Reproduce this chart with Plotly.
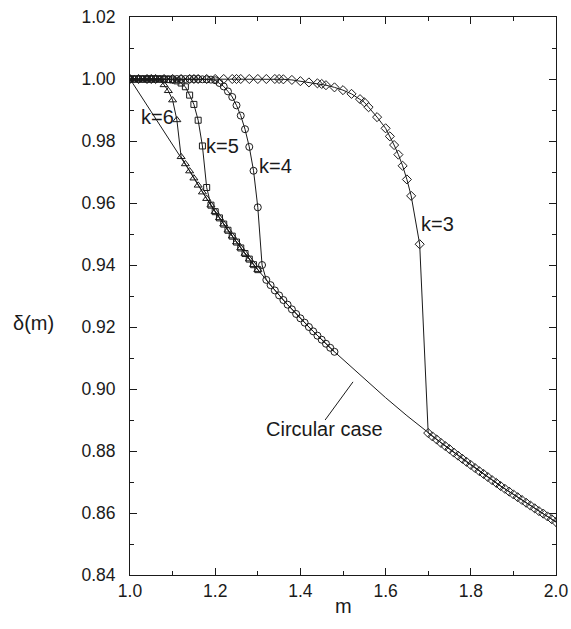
import plotly.graph_objects as go

# ---- circular case: delta(m) along the limiting curve ----
circ_m = [1.00,
          1.12, 1.13, 1.14, 1.15, 1.16, 1.17, 1.18, 1.19, 1.20, 1.21,
          1.22, 1.23, 1.24, 1.25, 1.26, 1.27, 1.28, 1.29, 1.30, 1.31,
          1.32, 1.33, 1.34, 1.35, 1.36, 1.37, 1.38, 1.39, 1.40, 1.41,
          1.42, 1.43, 1.44, 1.45, 1.46, 1.47, 1.48,
          1.50, 1.55, 1.60, 1.65,
          1.70, 1.71, 1.72, 1.73, 1.74, 1.75, 1.76, 1.77, 1.78, 1.79,
          1.80, 1.81, 1.82, 1.83, 1.84, 1.85, 1.86, 1.87, 1.88, 1.89,
          1.90, 1.91, 1.92, 1.93, 1.94, 1.95, 1.96, 1.97, 1.98, 1.99, 2.00]
circ_d = [1.0000,
          0.9749, 0.9726, 0.9703, 0.9680, 0.9657, 0.9635, 0.9614, 0.9593, 0.9572, 0.9552,
          0.9532, 0.9512, 0.9493, 0.9474, 0.9455, 0.9437, 0.9419, 0.9401, 0.9385, 0.9367,
          0.9352, 0.9335, 0.9318, 0.9302, 0.9287, 0.9272, 0.9257, 0.9242, 0.9228, 0.9214,
          0.9200, 0.9186, 0.9172, 0.9159, 0.9146, 0.9133, 0.9120,
          0.9095, 0.9032, 0.8972, 0.8914,
          0.8858, 0.8847, 0.8837, 0.8826, 0.8816, 0.8806, 0.8795, 0.8785, 0.8775, 0.8765,
          0.8755, 0.8745, 0.8735, 0.8726, 0.8716, 0.8706, 0.8697, 0.8687, 0.8678, 0.8669,
          0.8660, 0.8651, 0.8642, 0.8633, 0.8624, 0.8615, 0.8606, 0.8598, 0.8589, 0.8580, 0.8571]

# ---- k = 6 (plateau + drop), then joins the circular curve 1.12 .. 1.30 ----
k6_m = [1.00, 1.01, 1.02, 1.03, 1.04, 1.05, 1.06, 1.07, 1.08, 1.09, 1.10, 1.11]
k6_d = [1.0000, 1.0000, 1.0000, 1.0000, 1.0000, 1.0000, 1.0000, 0.9999, 0.9981, 0.9962, 0.9932, 0.9868]
k6_join = (1.12, 1.30)

# ---- k = 5 ----
k5_m = [1.00, 1.01, 1.02, 1.03, 1.04, 1.05, 1.06, 1.07, 1.08, 1.09, 1.10, 1.11,
        1.12, 1.13, 1.14, 1.15, 1.16, 1.17, 1.18]
k5_d = [1.0000, 1.0000, 1.0000, 1.0000, 1.0000, 1.0000, 1.0000, 1.0000, 0.9999, 0.9998, 0.9997, 0.9994,
        0.9987, 0.9975, 0.9948, 0.9918, 0.9867, 0.9784, 0.9650]
k5_join = (1.19, 1.30)

# ---- k = 4 ----
k4_m = [1.00, 1.01, 1.02, 1.03, 1.04, 1.05, 1.06, 1.07, 1.08, 1.09, 1.10,
        1.11, 1.12, 1.13, 1.14, 1.15, 1.16, 1.17, 1.18, 1.19, 1.20,
        1.21, 1.22, 1.23, 1.24, 1.25, 1.26, 1.27, 1.28, 1.29, 1.30, 1.31]
k4_d = [1.0000, 1.0000, 1.0000, 1.0000, 1.0000, 1.0000, 1.0000, 1.0000, 1.0000, 1.0000, 1.0000,
        1.0000, 1.0000, 1.0000, 1.0000, 1.0000, 1.0000, 0.9999, 0.9999, 0.9998, 0.9996,
        0.9987, 0.9976, 0.9960, 0.9942, 0.9915, 0.9882, 0.9838, 0.9781, 0.9704, 0.9586, 0.9400]
k4_join = (1.32, 1.48)

# ---- k = 3 ----
k3_m = [1.00, 1.02, 1.04, 1.05, 1.06, 1.08, 1.10, 1.12, 1.14, 1.15, 1.16, 1.18,
        1.20, 1.22, 1.24, 1.25, 1.26, 1.28, 1.30, 1.32, 1.34, 1.35, 1.36, 1.38,
        1.40, 1.42, 1.44, 1.45, 1.46, 1.48, 1.50, 1.52, 1.54, 1.55, 1.56, 1.58,
        1.60, 1.61, 1.62, 1.63, 1.64, 1.65, 1.66, 1.68]
k3_d = [1.0000, 1.0000, 1.0000, 1.0000, 1.0000, 1.0000, 1.0000, 1.0000, 1.0000, 1.0000, 1.0000, 1.0000,
        1.0000, 1.0000, 1.0000, 1.0000, 1.0000, 1.0000, 1.0000, 1.0000, 1.0000, 1.0000, 0.9999, 0.9997,
        0.9993, 0.9989, 0.9986, 0.9984, 0.9980, 0.9973, 0.9964, 0.9952, 0.9935, 0.9925, 0.9909, 0.9877,
        0.9841, 0.9815, 0.9787, 0.9756, 0.9720, 0.9676, 0.9623, 0.9467]
k3_join = (1.70, 2.00)

series = [
    ("k=6", k6_m, k6_d, k6_join, "triangle-up-open", 7),
    ("k=5", k5_m, k5_d, k5_join, "square-open", 6),
    ("k=4", k4_m, k4_d, k4_join, "circle-open", 7),
    ("k=3", k3_m, k3_d, k3_join, "diamond-open", 7),
]

INK = "#1a1a1a"
FONT = "Liberation Sans, Arial, Helvetica, sans-serif"

fig = go.Figure()

# solid line of the circular case
fig.add_trace(go.Scatter(x=circ_m, y=circ_d, mode="lines",
                         line=dict(color=INK, width=1), showlegend=False))

for name, ms, ds, (lo, hi), sym, size in series:
    tail = [(m, d) for m, d in zip(circ_m, circ_d) if lo - 1e-9 <= m <= hi + 1e-9]
    xs = ms + [p[0] for p in tail]
    ys = ds + [p[1] for p in tail]
    fig.add_trace(go.Scatter(
        x=xs, y=ys, mode="lines+markers", name=name, showlegend=False,
        line=dict(color=INK, width=1),
        marker=dict(symbol=sym, size=size, color=INK, line=dict(color=INK, width=1)),
    ))

labels = [("k=6", 1.0634, 0.9876), ("k=5", 1.2171, 0.9784),
          ("k=4", 1.3404, 0.9719), ("k=3", 1.7218, 0.9532),
          ("Circular case", 1.4577, 0.8871)]
for txt, x, y in labels:
    fig.add_annotation(x=x, y=y, text=txt, showarrow=False,
                       font=dict(family=FONT, size=20, color=INK),
                       xanchor="center", yanchor="middle")

# pointer from the label to the curve
fig.add_shape(type="line", xref="x", yref="y",
              x0=1.458, y0=0.8900, x1=1.5235, y1=0.9023,
              line=dict(color=INK, width=1))

# axis titles
fig.add_annotation(xref="paper", yref="paper", x=-0.2254, y=0.4516,
                   text="δ(m)", showarrow=False,
                   font=dict(family=FONT, size=20, color=INK),
                   xanchor="center", yanchor="middle")
fig.add_annotation(xref="paper", yref="paper", x=0.502, y=-0.0556,
                   text="m", showarrow=False,
                   font=dict(family=FONT, size=20, color=INK),
                   xanchor="center", yanchor="middle")

axis_common = dict(
    showgrid=False, zeroline=False, showline=True, linecolor=INK, linewidth=1,
    mirror="ticks", ticks="inside", ticklen=7, tickwidth=1, tickcolor=INK,
    tickfont=dict(family=FONT, size=17.5, color=INK), automargin=False,
)

fig.update_xaxes(range=[1.0, 2.0], dtick=0.2, tick0=1.0, tickformat=".1f",
                 minor=dict(dtick=0.1, ticks="inside", ticklen=4, tickcolor=INK),
                 **axis_common)
fig.update_yaxes(range=[0.84, 1.02], dtick=0.02, tick0=0.84, tickformat=".2f",
                 minor=dict(dtick=0.01, ticks="inside", ticklen=4, tickcolor=INK),
                 ticklabelstandoff=10, **axis_common)

fig.update_layout(
    width=571, height=629,
    margin=dict(l=130, r=15, t=17, b=54),
    paper_bgcolor="white", plot_bgcolor="white",
    showlegend=False,
)

fig.write_html("out.html")
